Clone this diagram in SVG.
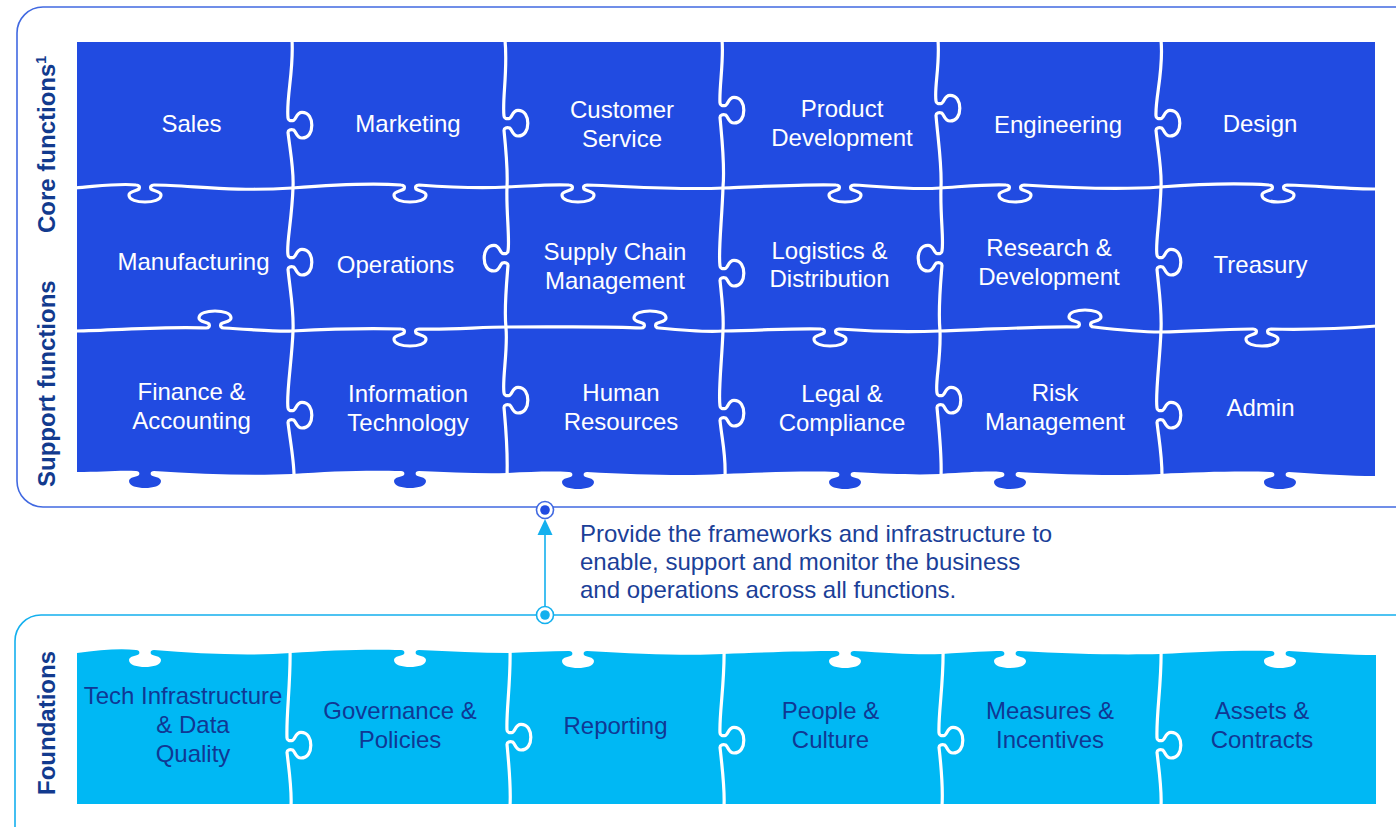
<svg xmlns="http://www.w3.org/2000/svg" width="1396" height="827" viewBox="0 0 1396 827">
<style>
.frameTop{fill:none;stroke:#4169e1;stroke-width:1.6}
.frameBot{fill:none;stroke:#14b0ee;stroke-width:1.6}
.core{fill:#214be1}
.found{fill:#00b8f4}
.seam{fill:none;stroke:#fff;stroke-width:3.2;stroke-linecap:round;stroke-linejoin:round}
.lbl{font-family:"Liberation Sans",Arial,sans-serif;font-size:24px;fill:#fff;text-anchor:middle}
.flbl{font-family:"Liberation Sans",Arial,sans-serif;font-size:24px;fill:#103894;text-anchor:middle}
.side{font-family:"Liberation Sans",Arial,sans-serif;font-size:24px;font-weight:bold;fill:#123a8e}
.desc{font-family:"Liberation Sans",Arial,sans-serif;font-size:24px;fill:#1b3f98}
</style>
<rect class="frameTop" x="17" y="7" width="1420" height="500" rx="26"/>
<rect class="frameBot" x="15" y="615" width="1420" height="260" rx="26"/>

<g id="core-puzzle">
<path class="core" d="M1375,42 L77,42 L77,472 C100,472 120,470 136,471 c3,0 4,2 3,4 c-2,2 -10,2 -10,6 c0,5 8,7 16,7 c8,0 16,-2 16,-7 c0,-4 -8,-4 -10,-6 c-1,-2 0,-4 3,-4 C200,474 250,476 292,474 C330,471 370,470 401,471 c3,0 4,2 3,4 c-2,2 -10,2 -10,6 c0,5 8,7 16,7 c8,0 16,-2 16,-7 c0,-4 -8,-4 -10,-6 c-1,-2 0,-4 3,-4 C450,472 480,474 507,473 C530,472 550,471 569,472 c3,0 4,2 3,4 c-2,2 -10,2 -10,6 c0,5 8,7 16,7 c8,0 16,-2 16,-7 c0,-4 -8,-4 -10,-6 c-1,-2 0,-4 3,-4 C640,475 690,476 723,474 C770,472 810,471 836,472 c3,0 4,2 3,4 c-2,2 -10,2 -10,6 c0,5 8,7 16,7 c8,0 16,-2 16,-7 c0,-4 -8,-4 -10,-6 c-1,-2 0,-4 3,-4 C890,474 915,475 940,474 C970,472 990,471 1001,472 c3,0 4,2 3,4 c-2,2 -10,2 -10,6 c0,5 8,7 16,7 c8,0 16,-2 16,-7 c0,-4 -8,-4 -10,-6 c-1,-2 0,-4 3,-4 C1070,475 1120,476 1160,474 C1200,472 1240,471 1271,472 c3,0 4,2 3,4 c-2,2 -10,2 -10,6 c0,5 8,7 16,7 c8,0 16,-2 16,-7 c0,-4 -8,-4 -10,-6 c-1,-2 0,-4 3,-4 C1320,474 1350,476 1375,476 Z"/>
</g>

<g id="foundation-puzzle">
<path class="found" d="M77,653 C100,650 120,648 136,650 c3,0 4,2 3,4 c-2,2 -10,2 -10,6 c0,5 8,7 16,7 c8,0 16,-2 16,-7 c0,-4 -8,-4 -10,-6 c-1,-2 0,-4 3,-4 C200,654 250,656 291,653 C330,650 370,649 401,650 c3,0 4,2 3,4 c-2,2 -10,2 -10,6 c0,5 8,7 16,7 c8,0 16,-2 16,-7 c0,-4 -8,-4 -10,-6 c-1,-2 0,-4 3,-4 C450,651 480,653 509,653 C530,652 550,651 569,651 c3,0 4,2 3,4 c-2,2 -10,2 -10,6 c0,5 8,7 16,7 c8,0 16,-2 16,-7 c0,-4 -8,-4 -10,-6 c-1,-2 0,-4 3,-4 C640,654 690,656 723,654 C770,652 810,651 836,651 c3,0 4,2 3,4 c-2,2 -10,2 -10,6 c0,5 8,7 16,7 c8,0 16,-2 16,-7 c0,-4 -8,-4 -10,-6 c-1,-2 0,-4 3,-4 C890,653 915,655 942,654 C970,652 990,651 1001,651 c3,0 4,2 3,4 c-2,2 -10,2 -10,6 c0,5 8,7 16,7 c8,0 16,-2 16,-7 c0,-4 -8,-4 -10,-6 c-1,-2 0,-4 3,-4 C1070,654 1120,655 1160,654 C1200,652 1240,650 1271,651 c3,0 4,2 3,4 c-2,2 -10,2 -10,6 c0,5 8,7 16,7 c8,0 16,-2 16,-7 c0,-4 -8,-4 -10,-6 c-1,-2 0,-4 3,-4 C1320,653 1350,655 1376,655 L1376,804 L77,804 Z"/>
</g>

<g id="seams">
<path class="seam" d="M75,188 C100,186 120,183 136,185 c3,0 4,2 3,4 c-2,2 -10,2 -10,6 c0,5 8,7 16,7 c8,0 16,-2 16,-7 c0,-4 -8,-4 -10,-6 c-1,-2 0,-4 3,-4 C190,185 230,192 292,188 C330,185 370,183 401,185 c3,0 4,2 3,4 c-2,2 -10,2 -10,6 c0,5 8,7 16,7 c8,0 16,-2 16,-7 c0,-4 -8,-4 -10,-6 c-1,-2 0,-4 3,-4 C460,188 490,188 507,187 C530,186 550,184 569,185 c3,0 4,2 3,4 c-2,2 -10,2 -10,6 c0,5 8,7 16,7 c8,0 16,-2 16,-7 c0,-4 -8,-4 -10,-6 c-1,-2 0,-4 3,-4 C640,187 680,190 723,188 C770,186 810,184 836,185 c3,0 4,2 3,4 c-2,2 -10,2 -10,6 c0,5 8,7 16,7 c8,0 16,-2 16,-7 c0,-4 -8,-4 -10,-6 c-1,-2 0,-4 3,-4 C890,187 910,190 940,188 C970,186 990,184 1006,185 c3,0 4,2 3,4 c-2,2 -10,2 -10,6 c0,5 8,7 16,7 c8,0 16,-2 16,-7 c0,-4 -8,-4 -10,-6 c-1,-2 0,-4 3,-4 C1070,188 1120,190 1160,187 C1200,184 1240,183 1269,185 c3,0 4,2 3,4 c-2,2 -10,2 -10,6 c0,5 8,7 16,7 c8,0 16,-2 16,-7 c0,-4 -8,-4 -10,-6 c-1,-2 0,-4 3,-4 C1320,186 1350,189 1377,189"/>
<path class="seam" d="M75,331 C120,330 170,326 206,328 c3,0 4,-2 3,-4 c-2,-2 -10,-2 -10,-6 c0,-5 8,-7 16,-7 c8,0 16,2 16,7 c0,4 -8,4 -10,6 c-1,2 0,4 3,4 C260,330 280,332 292,331 C330,329 370,328 401,329 c3,0 4,2 3,4 c-2,2 -10,2 -10,6 c0,5 8,7 16,7 c8,0 16,-2 16,-7 c0,-4 -8,-4 -10,-6 c-1,-2 0,-4 3,-4 C450,330 480,327 507,327 C560,327 610,326 641,328 c3,0 4,-2 3,-4 c-2,-2 -10,-2 -10,-6 c0,-5 8,-7 16,-7 c8,0 16,2 16,7 c0,4 -8,4 -10,6 c-1,2 0,4 3,4 C690,331 710,332 723,331 C770,330 800,328 821,329 c3,0 4,2 3,4 c-2,2 -10,2 -10,6 c0,5 8,7 16,7 c8,0 16,-2 16,-7 c0,-4 -8,-4 -10,-6 c-1,-2 0,-4 3,-4 C880,332 910,332 940,331 C1000,329 1050,326 1076,327 c3,0 4,-2 3,-4 c-2,-2 -10,-2 -10,-6 c0,-5 8,-7 16,-7 c8,0 16,2 16,7 c0,4 -8,4 -10,6 c-1,2 0,4 3,4 C1120,330 1140,332 1160,332 C1200,331 1230,329 1253,329 c3,0 4,2 3,4 c-2,2 -10,2 -10,6 c0,5 8,7 16,7 c8,0 16,-2 16,-7 c0,-4 -8,-4 -10,-6 c-1,-2 0,-4 3,-4 C1310,330 1350,328 1377,326"/>
<path class="seam" d="M292,40 C294,70 286,98 288,118 c0,2.4 2.8,3.2 5.6,2.4 c2.8,-1.6 2.8,-8 8.4,-8 c7,0 9.8,6.4 9.8,12.8 c0,6.4 -2.8,12.8 -9.8,12.8 c-5.6,0 -5.6,-6.4 -8.4,-8 c-2.8,-0.8 -5.6,0 -5.6,2.4 C290,150 294,170 293,187 C292,220 286,245 288,255 c0,2.4 2.8,3.2 5.6,2.4 c2.8,-1.6 2.8,-8 8.4,-8 c7,0 9.8,6.4 9.8,12.8 c0,6.4 -2.8,12.8 -9.8,12.8 c-5.6,0 -5.6,-6.4 -8.4,-8 c-2.8,-0.8 -5.6,0 -5.6,2.4 C290,290 294,310 293,331 C292,360 286,395 288,408 c0,2.4 2.8,3.2 5.6,2.4 c2.8,-1.6 2.8,-8 8.4,-8 c7,0 9.8,6.4 9.8,12.8 c0,6.4 -2.8,12.8 -9.8,12.8 c-5.6,0 -5.6,-6.4 -8.4,-8 c-2.8,-0.8 -5.6,0 -5.6,2.4 C290,440 294,460 294,476"/>
<path class="seam" d="M505,40 C508,70 502,100 504,116 c0,2.4 2.8,3.2 5.6,2.4 c2.8,-1.6 2.8,-8 8.4,-8 c7,0 9.8,6.4 9.8,12.8 c0,6.4 -2.8,12.8 -9.8,12.8 c-5.6,0 -5.6,-6.4 -8.4,-8 c-2.8,-0.8 -5.6,0 -5.6,2.4 C506,150 508,170 507,187 C506,210 510,240 508,251 c0,2.4 -2.8,3.2 -5.6,2.4 c-2.8,-1.6 -2.8,-8 -8.4,-8 c-7,0 -9.8,6.4 -9.8,12.8 c0,6.4 2.8,12.8 9.8,12.8 c5.6,0 5.6,-6.4 8.4,-8 c2.8,-0.8 5.6,0 5.6,2.4 C506,290 504,310 506,328 C508,350 502,380 504,393 c0,2.4 2.8,3.2 5.6,2.4 c2.8,-1.6 2.8,-8 8.4,-8 c7,0 9.8,6.4 9.8,12.8 c0,6.4 -2.8,12.8 -9.8,12.8 c-5.6,0 -5.6,-6.4 -8.4,-8 c-2.8,-0.8 -5.6,0 -5.6,2.4 C506,430 508,450 507,476"/>
<path class="seam" d="M722,40 C724,60 719,88 720,103 c0,2.4 2.8,3.2 5.6,2.4 c2.8,-1.6 2.8,-8 8.4,-8 c7,0 9.8,6.4 9.8,12.8 c0,6.4 -2.8,12.8 -9.8,12.8 c-5.6,0 -5.6,-6.4 -8.4,-8 c-2.8,-0.8 -5.6,0 -5.6,2.4 C722,140 725,165 723,187 C722,220 718,252 720,266 c0,2.4 2.8,3.2 5.6,2.4 c2.8,-1.6 2.8,-8 8.4,-8 c7,0 9.8,6.4 9.8,12.8 c0,6.4 -2.8,12.8 -9.8,12.8 c-5.6,0 -5.6,-6.4 -8.4,-8 c-2.8,-0.8 -5.6,0 -5.6,2.4 C722,300 724,315 723,330 C722,360 718,392 720,406 c0,2.4 2.8,3.2 5.6,2.4 c2.8,-1.6 2.8,-8 8.4,-8 c7,0 9.8,6.4 9.8,12.8 c0,6.4 -2.8,12.8 -9.8,12.8 c-5.6,0 -5.6,-6.4 -8.4,-8 c-2.8,-0.8 -5.6,0 -5.6,2.4 C722,440 726,455 725,476"/>
<path class="seam" d="M938,40 C940,65 934,88 936,101 c0,2.4 2.8,3.2 5.6,2.4 c2.8,-1.6 2.8,-8 8.4,-8 c7,0 9.8,6.4 9.8,12.8 c0,6.4 -2.8,12.8 -9.8,12.8 c-5.6,0 -5.6,-6.4 -8.4,-8 c-2.8,-0.8 -5.6,0 -5.6,2.4 C938,140 942,165 941,187 C940,215 944,240 942,251 c0,2.4 -2.8,3.2 -5.6,2.4 c-2.8,-1.6 -2.8,-8 -8.4,-8 c-7,0 -9.8,6.4 -9.8,12.8 c0,6.4 2.8,12.8 9.8,12.8 c5.6,0 5.6,-6.4 8.4,-8 c2.8,-0.8 5.6,0 5.6,2.4 C940,290 938,310 940,331 C941,360 935,382 937,393 c0,2.4 2.8,3.2 5.6,2.4 c2.8,-1.6 2.8,-8 8.4,-8 c7,0 9.8,6.4 9.8,12.8 c0,6.4 -2.8,12.8 -9.8,12.8 c-5.6,0 -5.6,-6.4 -8.4,-8 c-2.8,-0.8 -5.6,0 -5.6,2.4 C939,430 942,455 941,476"/>
<path class="seam" d="M1161,40 C1164,70 1155,98 1156,116 c0,2.4 2.8,3.2 5.6,2.4 c2.8,-1.6 2.8,-8 8.4,-8 c7,0 9.8,6.4 9.8,12.8 c0,6.4 -2.8,12.8 -9.8,12.8 c-5.6,0 -5.6,-6.4 -8.4,-8 c-2.8,-0.8 -5.6,0 -5.6,2.4 C1158,150 1162,170 1161,187 C1160,220 1155,245 1157,255 c0,2.4 2.8,3.2 5.6,2.4 c2.8,-1.6 2.8,-8 8.4,-8 c7,0 9.8,6.4 9.8,12.8 c0,6.4 -2.8,12.8 -9.8,12.8 c-5.6,0 -5.6,-6.4 -8.4,-8 c-2.8,-0.8 -5.6,0 -5.6,2.4 C1159,290 1162,310 1161,330 C1160,360 1155,395 1157,408 c0,2.4 2.8,3.2 5.6,2.4 c2.8,-1.6 2.8,-8 8.4,-8 c7,0 9.8,6.4 9.8,12.8 c0,6.4 -2.8,12.8 -9.8,12.8 c-5.6,0 -5.6,-6.4 -8.4,-8 c-2.8,-0.8 -5.6,0 -5.6,2.4 C1159,440 1162,455 1162,476"/>
<path class="seam" d="M290,648 C291,680 286,715 287,738 c0,2.4 2.8,3.2 5.6,2.4 c2.8,-1.6 2.8,-8 8.4,-8 c7,0 9.8,6.4 9.8,12.8 c0,6.4 -2.8,12.8 -9.8,12.8 c-5.6,0 -5.6,-6.4 -8.4,-8 c-2.8,-0.8 -5.6,0 -5.6,2.4 C289,770 292,790 291,806"/>
<path class="seam" d="M510,648 C511,680 506,712 507,730 c0,2.4 2.8,3.2 5.6,2.4 c2.8,-1.6 2.8,-8 8.4,-8 c7,0 9.8,6.4 9.8,12.8 c0,6.4 -2.8,12.8 -9.8,12.8 c-5.6,0 -5.6,-6.4 -8.4,-8 c-2.8,-0.8 -5.6,0 -5.6,2.4 C509,765 511,790 510,806"/>
<path class="seam" d="M724,648 C725,680 719,715 720,733 c0,2.4 2.8,3.2 5.6,2.4 c2.8,-1.6 2.8,-8 8.4,-8 c7,0 9.8,6.4 9.8,12.8 c0,6.4 -2.8,12.8 -9.8,12.8 c-5.6,0 -5.6,-6.4 -8.4,-8 c-2.8,-0.8 -5.6,0 -5.6,2.4 C722,765 725,790 724,806"/>
<path class="seam" d="M943,648 C944,680 938,715 939,733 c0,2.4 2.8,3.2 5.6,2.4 c2.8,-1.6 2.8,-8 8.4,-8 c7,0 9.8,6.4 9.8,12.8 c0,6.4 -2.8,12.8 -9.8,12.8 c-5.6,0 -5.6,-6.4 -8.4,-8 c-2.8,-0.8 -5.6,0 -5.6,2.4 C941,765 943,790 942,806"/>
<path class="seam" d="M1161,648 C1162,680 1156,715 1157,738 c0,2.4 2.8,3.2 5.6,2.4 c2.8,-1.6 2.8,-8 8.4,-8 c7,0 9.8,6.4 9.8,12.8 c0,6.4 -2.8,12.8 -9.8,12.8 c-5.6,0 -5.6,-6.4 -8.4,-8 c-2.8,-0.8 -5.6,0 -5.6,2.4 C1159,770 1162,790 1161,806"/>
</g>

<g id="side-labels">
<text class="side" transform="translate(55,233) rotate(-90)">Core functions<tspan font-size="14" dy="-9">1</tspan></text>
<text class="side" transform="translate(55,487) rotate(-90)">Support functions</text>
<text class="side" transform="translate(55,795) rotate(-90)">Foundations</text>
</g>

<g id="node-sales"><text class="lbl" x="191.5" y="131.5">Sales</text></g>
<g id="node-marketing"><text class="lbl" x="408" y="131.5">Marketing</text></g>
<g id="node-customer-service"><text class="lbl" x="622" y="117.5">Customer</text><text class="lbl" x="622" y="146.5">Service</text></g>
<g id="node-product-development"><text class="lbl" x="842" y="116.5">Product</text><text class="lbl" x="842" y="145.5">Development</text></g>
<g id="node-engineering"><text class="lbl" x="1058" y="132.5">Engineering</text></g>
<g id="node-design"><text class="lbl" x="1260" y="131.5">Design</text></g>

<g id="node-manufacturing"><text class="lbl" x="193.5" y="269.5">Manufacturing</text></g>
<g id="node-operations"><text class="lbl" x="395.5" y="272.5">Operations</text></g>
<g id="node-supply-chain"><text class="lbl" x="615" y="259.5">Supply Chain</text><text class="lbl" x="615" y="288.5">Management</text></g>
<g id="node-logistics"><text class="lbl" x="829.5" y="258.5">Logistics &amp;</text><text class="lbl" x="829.5" y="286.5">Distribution</text></g>
<g id="node-research"><text class="lbl" x="1049" y="255.5">Research &amp;</text><text class="lbl" x="1049" y="284.5">Development</text></g>
<g id="node-treasury"><text class="lbl" x="1260.5" y="272.5">Treasury</text></g>

<g id="node-finance"><text class="lbl" x="191.5" y="400">Finance &amp;</text><text class="lbl" x="191.5" y="429">Accounting</text></g>
<g id="node-it"><text class="lbl" x="408" y="401.5">Information</text><text class="lbl" x="408" y="430.5">Technology</text></g>
<g id="node-hr"><text class="lbl" x="621" y="400.5">Human</text><text class="lbl" x="621" y="429.5">Resources</text></g>
<g id="node-legal"><text class="lbl" x="842" y="401.5">Legal &amp;</text><text class="lbl" x="842" y="430.5">Compliance</text></g>
<g id="node-risk"><text class="lbl" x="1055" y="400.5">Risk</text><text class="lbl" x="1055" y="429.5">Management</text></g>
<g id="node-admin"><text class="lbl" x="1260.5" y="415.5">Admin</text></g>

<g id="node-tech-infra"><text class="flbl" x="183" y="704">Tech Infrastructure</text><text class="flbl" x="193" y="733">&amp; Data</text><text class="flbl" x="193" y="762">Quality</text></g>
<g id="node-governance"><text class="flbl" x="400" y="719">Governance &amp;</text><text class="flbl" x="400" y="748">Policies</text></g>
<g id="node-reporting"><text class="flbl" x="615.5" y="733.5">Reporting</text></g>
<g id="node-people"><text class="flbl" x="830.5" y="719">People &amp;</text><text class="flbl" x="830.5" y="748">Culture</text></g>
<g id="node-measures"><text class="flbl" x="1050" y="719">Measures &amp;</text><text class="flbl" x="1050" y="748">Incentives</text></g>
<g id="node-assets"><text class="flbl" x="1262" y="718.5">Assets &amp;</text><text class="flbl" x="1262" y="747.5">Contracts</text></g>

<g id="connectors">
<line x1="545" y1="534" x2="545" y2="606" stroke="#14b0ee" stroke-width="1.6"/>
<polygon points="545,519 537.5,535 552.5,535" fill="#14b0ee"/>
<circle cx="545" cy="510" r="8.5" fill="#fff" stroke="#4169e1" stroke-width="1.6"/>
<circle cx="545" cy="510" r="4.8" fill="#214be1"/>
<circle cx="545" cy="615" r="8.5" fill="#fff" stroke="#14b0ee" stroke-width="1.6"/>
<circle cx="545" cy="615" r="4.8" fill="#14b0ee"/>
</g>

<g id="description">
<text class="desc" x="580" y="542">Provide the frameworks and infrastructure to</text>
<text class="desc" x="580" y="570">enable, support and monitor the business</text>
<text class="desc" x="580" y="598">and operations across all functions.</text>
</g>
</svg>
